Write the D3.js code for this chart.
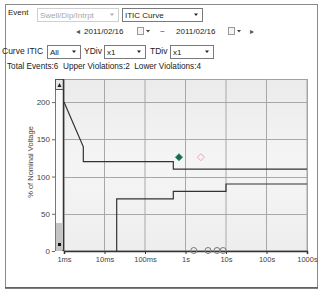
<!DOCTYPE html>
<html><head><meta charset="utf-8">
<script src="https://cdn.jsdelivr.net/npm/d3@7"></script>
<style>
html,body{margin:0;padding:0;background:#fff;}
svg{display:block;font-family:"Liberation Sans",Arial,sans-serif;}
</style></head>
<body><svg id="c" width="323" height="291"></svg>
<script>
// ---- data ----
const xTickValues = [0.001, 0.01, 0.1, 1, 10, 100, 1000];
const xTickLabels = ["1ms", "10ms", "100ms", "1s", "10s", "100s", "1000s"];
const yTickValues = [0, 50, 100, 150, 200];
const upperTime = [0.001, 0.003, 0.003, 0.5, 0.5, 1000];
const upperPct  = [200, 140, 120, 120, 110, 110];
const lowerTime = [0.02, 0.02, 0.5, 0.5, 10, 10, 1000];
const lowerPct  = [0, 70, 70, 80, 80, 90, 90];
const upperEventTime = [0.69, 2.4];
const upperEventPct  = [126, 126];
const upperEventKind = ["filled", "open"];
const lowerEventTime = [1.6, 3.6, 6, 8.5];
const lowerEventPct  = [0, 0, 0, 0];
const eventTypes = ["Swell/Dip/Intrpt"];
const viewTypes = ["ITIC Curve"];
const dateFrom = "2011/02/16", dateTo = "2011/02/16";
const curveOptions = ["All"], yDivOptions = ["x1"], tDivOptions = ["x1"];
const summary = {total: 6, upper: 2, lower: 4};

const svg = d3.select("#c");
const fs = 8;

// outer frame
svg.append("rect").attr("x",5.5).attr("y",4.5).attr("width",312).attr("height",283)
  .attr("fill","#fff").attr("stroke","#8a8a8a");
svg.append("line").attr("x1",5).attr("x2",318).attr("y1",288).attr("y2",288).attr("stroke","#555").attr("stroke-width",1.5);

function combo(x, y, w, h, label, disabled){
  const g = svg.append("g");
  g.append("rect").attr("x",x+0.5).attr("y",y+0.5).attr("width",w).attr("height",h)
    .attr("fill","#fff").attr("stroke", disabled ? "#d0d0d0" : "#7a7a7a");
  g.append("text").attr("x",x+3).attr("y",y+h/2+3.5).attr("font-size",fs)
    .attr("fill", disabled ? "#a8a8a8" : "#222").text(label);
  g.append("path").attr("d",`M${x+w-8},${y+h/2-1}l4,0l-2,2.5z`).attr("fill", disabled ? "#aaa":"#222");
}
function label(x, y, t, opts={}){
  return svg.append("text").attr("x",x).attr("y",y).attr("font-size",opts.fs||fs)
    .attr("fill",opts.fill||"#222").attr("text-anchor",opts.anchor||"start")
    .style("white-space","pre").text(t);
}

// row 1
label(8, 15, "Event");
combo(37, 8, 81, 13, eventTypes[0], true);
combo(122, 8, 80, 13, viewTypes[0], false);

// row 2
label(76, 34, "◂", {fs:8, fill:"#555"});
label(84, 34, dateFrom);
function cal(x,y){
  svg.append("rect").attr("x",x+0.5).attr("y",y+0.5).attr("width",6).attr("height",7).attr("fill","#f4f4f4").attr("stroke","#999");
  svg.append("path").attr("d",`M${x+9},${y+3}l4,0l-2,2.5z`).attr("fill","#444");
}
cal(137, 27);
label(160, 34, "~");
label(176, 34, dateTo);
cal(228, 27);
label(250, 34, "▸", {fs:8, fill:"#555"});

// row 3
label(2, 54, "Curve ITIC", {fs:8.5});
combo(47, 45, 33, 13, curveOptions[0], false);
label(84, 54, "YDiv", {fs:8.5});
combo(104, 45, 41, 13, yDivOptions[0], false);
label(150, 54, "TDiv", {fs:8.5});
combo(170, 45, 43, 13, tDivOptions[0], false);

// row 4
label(7, 69, `Total Events:${summary.total}  Upper Violations:${summary.upper}  Lower Violations:${summary.lower}`, {fs:8.2});

// ---- plot ----
const x = d3.scaleLog().domain([0.001, 1000]).range([64, 307]);
const y = d3.scaleLinear().domain([0, 231]).range([251, 79]);

const defs = svg.append("defs");
const grad = defs.append("linearGradient").attr("id","bg").attr("x1",0).attr("x2",0).attr("y1",0).attr("y2",1);
grad.append("stop").attr("offset","0%").attr("stop-color","#ebebeb");
grad.append("stop").attr("offset","50%").attr("stop-color","#f5f5f5");
grad.append("stop").attr("offset","100%").attr("stop-color","#eeeeee");

svg.append("rect").attr("x",64).attr("y",79.5).attr("width",243.5).attr("height",171.5)
  .attr("fill","url(#bg)").attr("stroke","#a0a0a0");

// grid
svg.append("g").selectAll("line").data(xTickValues.slice(1)).join("line")
  .attr("x1",d=>x(d)).attr("x2",d=>x(d)).attr("y1",79).attr("y2",251)
  .attr("stroke","#a8a8a8").attr("stroke-width",1);
svg.append("g").selectAll("line").data(yTickValues.slice(1)).join("line")
  .attr("x1",64).attr("x2",307).attr("y1",d=>Math.round(y(d))+0.5).attr("y2",d=>Math.round(y(d))+0.5)
  .attr("stroke","#a8a8a8").attr("stroke-width",1);

// axes
const xAxis = d3.axisBottom(x).tickValues(xTickValues).tickFormat((d,i)=>xTickLabels[i]).tickSize(3).tickPadding(3);
const gx = svg.append("g").attr("transform","translate(0,251)").call(xAxis);
gx.select(".domain").attr("stroke","#333").attr("stroke-width",1.5);
gx.selectAll(".tick line").attr("stroke","#333");
gx.selectAll("text").attr("font-size",7.5).attr("fill","#444").attr("font-family","Liberation Sans, Arial, sans-serif");

const yAxis = d3.axisLeft(y).tickValues(yTickValues).tickSize(3).tickPadding(2);
const gy = svg.append("g").attr("transform","translate(55,0)").call(yAxis);
gy.select(".domain").remove();
gy.selectAll(".tick line").attr("stroke","#666");
gy.selectAll("text").attr("font-size",8).attr("fill","#444").attr("font-family","Liberation Sans, Arial, sans-serif");

svg.append("text").attr("transform","translate(33,162) rotate(-90)").attr("text-anchor","middle")
  .attr("font-size",7.5).attr("fill","#444").text("% of Nominal Voltage");

// scrollbar
svg.append("rect").attr("x",55.5).attr("y",79.5).attr("width",8).attr("height",171).attr("fill","#fbfbfb").attr("stroke","#777");
svg.append("rect").attr("x",55.5).attr("y",79.5).attr("width",8).attr("height",10).attr("fill","#e8e8e8").attr("stroke","#555");
svg.append("path").attr("d","M57.5,87l2,-4l2,4z").attr("fill","#222");
svg.append("rect").attr("x",56).attr("y",223).attr("width",6).attr("height",28).attr("fill","#c4c4c4");
svg.append("rect").attr("x",58).attr("y",243).attr("width",3).attr("height",3).attr("fill","#111");
svg.append("line").attr("x1",63.5).attr("x2",63.5).attr("y1",79).attr("y2",251).attr("stroke","#333").attr("stroke-width",1.5);

// ITIC curves
const line = d3.line().x(d=>x(d[0])).y(d=>y(d[1]));
svg.append("path").datum(d3.zip(upperTime, upperPct)).attr("d", line)
  .attr("fill","none").attr("stroke","#333").attr("stroke-width",1.2);
svg.append("path").datum(d3.zip(lowerTime, lowerPct)).attr("d", line)
  .attr("fill","none").attr("stroke","#333").attr("stroke-width",1.2);

// events
const diamond = "M0,-3.5L3.5,0L0,3.5L-3.5,0Z";
svg.append("g").selectAll("path").data(d3.zip(upperEventTime, upperEventPct, upperEventKind)).join("path")
  .attr("d", diamond).attr("transform", d=>`translate(${x(d[0])},${y(d[1])})`)
  .attr("fill", d=>d[2]==="filled" ? "#17684a" : "none")
  .attr("stroke", d=>d[2]==="filled" ? "#2a8a66" : "#f2a3b8").attr("stroke-width",1);
svg.append("g").selectAll("circle").data(d3.zip(lowerEventTime, lowerEventPct)).join("circle")
  .attr("cx", d=>x(d[0])).attr("cy", d=>y(d[1])-0.5).attr("r",3)
  .attr("fill","none").attr("stroke","#777").attr("stroke-width",1);
</script></body></html>
